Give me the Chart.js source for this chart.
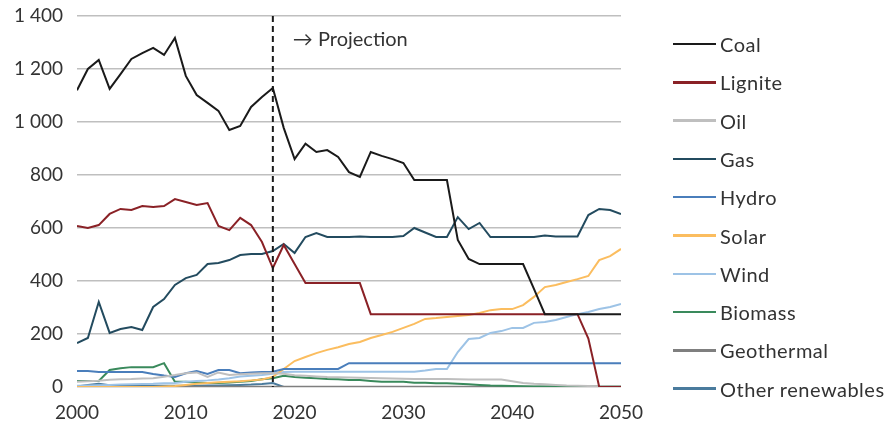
<!DOCTYPE html>
<html>
<head>
<meta charset="utf-8">
<script src="https://cdn.jsdelivr.net/npm/chart.js@4"></script>
<style>
  html, body { margin: 0; padding: 0; background: #fff; }
  #wrap { position: relative; width: 887px; height: 430px; }
  #legend { position: absolute; left: 673px; top: 0; font-family: Lato, "Open Sans", sans-serif; font-size: 20px; letter-spacing: 0.5px; color: #333; }
  .item { position: absolute; left: 0; height: 24px; display: flex; align-items: center; white-space: nowrap; }
  .swatch { width: 43px; height: 2.5px; margin-right: 4px; }
</style>
</head>
<body>
<div id="wrap">
  <canvas id="c" width="887" height="430"></canvas>
  <div id="legend"></div>
</div>
<script>
const years = [];
for (let y = 2000; y <= 2050; y++) years.push(y);

const seriesNames = ["Coal", "Lignite", "Oil", "Gas", "Hydro", "Solar", "Wind", "Biomass", "Geothermal", "Other renewables"];
const seriesColors = ["#1a1a1a", "#8a2126", "#bfbfbf", "#234b5f", "#4a7ebb", "#fbbd5f", "#9dc3e6", "#3a8a5c", "#7f7f7f", "#4a7b9d"];

const coal = [1120,1200,1234,1125,1181,1238,1260,1280,1253,1317,1174,1102,1072,1042,970,985,1057,1094,1128,978,860,918,887,894,868,811,793,887,872,860,845,781,781,781,781,555,483,464,464,464,464,464,370,275,275,275,275,275,275,275,275];
const lignite = [608,600,611,653,672,668,683,679,683,709,698,687,694,608,592,638,611,547,449,536,464,392,392,392,392,392,392,275,275,275,275,275,275,275,275,275,275,275,275,275,275,275,275,275,275,275,275,183,0,0,0];
const oil = [20,22,24,27,29,30,32,33,39,45,52,55,38,55,45,48,50,52,52,50,44,42,40,38,37,36,35,34,33,32,31,30,30,30,30,29,28,28,28,28,22,15,12,10,8,6,5,4,3,2,2];
const gas = [166,185,321,204,219,226,215,302,332,385,411,423,464,468,479,498,502,502,513,540,506,566,581,566,566,566,568,566,566,566,570,600,583,566,566,641,596,619,566,566,566,566,566,572,568,568,568,649,672,668,653];
const hydro = [60,60,57,57,57,57,57,49,43,38,52,60,49,64,64,52,55,57,58,68,68,68,68,68,68,90,90,90,90,90,90,90,90,90,90,90,90,90,90,90,90,90,90,90,90,90,90,90,90,90,90];
const solar = [0,0,0,0,0,0,0,0,2,4,8,12,15,18,20,22,25,28,38,68,98,113,128,140,150,162,170,185,196,208,223,238,257,260,264,268,272,279,290,294,294,309,340,377,385,396,407,419,479,494,521];
const wind = [5,6,7,8,9,10,11,12,14,15,20,23,25,28,33,40,42,45,50,57,58,58,58,58,58,58,58,58,58,58,58,58,62,68,68,132,181,185,204,211,223,223,242,245,253,264,275,283,294,302,313];
const biomass = [23,23,23,64,71,75,75,75,90,20,20,17,15,15,17,20,23,29,33,42,38,35,33,30,29,26,26,23,20,20,20,16,16,14,14,12,10,8,6,5,4,3,2,2,2,2,2,2,2,2,2];
const geothermal = [0,0,0,0,0,0,0,0,0,0,0,1,1,1,1,1,1,1,1,1,1,1,1,1,1,1,1,1,1,1,1,1,1,1,1,1,1,1,1,1,1,1,1,1,1,1,1,1,1,1,1];
const otherRenewables = [2,8,12,7,5,5,5,5,5,5,5,5,6,6,7,8,9,11,15,0,0,0,0,0,0,0,0,0,0,0,0,0,0,0,0,0,0,0,0,0,0,0,0,0,0,0,0,0,0,0,0];

const seriesValues = [coal, lignite, oil, gas, hydro, solar, wind, biomass, geothermal, otherRenewables];

const yTicks = [0, 200, 400, 600, 800, 1000, 1200, 1400];
const xTicks = [2000, 2010, 2020, 2030, 2040, 2050];
const projectionYear = 2018;
const projectionLabel = "\u2192 Projection";

const FONT = "Lato, 'Open Sans', sans-serif";

const datasets = seriesNames.map((name, i) => ({
  label: name,
  data: years.map((yr, j) => ({ x: yr, y: seriesValues[i][j] })),
  borderColor: seriesColors[i],
  backgroundColor: seriesColors[i],
  borderWidth: 2,
  pointRadius: 0,
  tension: 0,
  fill: false
}));

const projectionPlugin = {
  id: 'projection',
  afterDatasetsDraw(chart) {
    const { ctx, chartArea, scales } = chart;
    const x = scales.x.getPixelForValue(projectionYear);
    ctx.save();
    ctx.strokeStyle = '#1a1a1a';
    ctx.lineWidth = 2;
    ctx.setLineDash([6, 4]);
    ctx.beginPath();
    ctx.moveTo(x, chartArea.top);
    ctx.lineTo(x, chartArea.bottom);
    ctx.stroke();
    ctx.setLineDash([]);
    ctx.fillStyle = '#333';
    ctx.font = "20px " + FONT;
    ctx.textBaseline = 'middle';
    ctx.textAlign = 'left';
    ctx.fillText(projectionLabel, x + 20, scales.y.getPixelForValue(1310));
    ctx.restore();
  }
};

new Chart(document.getElementById('c'), {
  type: 'line',
  data: { datasets },
  options: {
    responsive: false,
    animation: false,
    layout: { padding: { top: 16, right: 266, left: 0, bottom: 0 } },
    plugins: { legend: { display: false }, tooltip: { enabled: false } },
    scales: {
      x: {
        type: 'linear',
        min: 2000, max: 2050,
        afterBuildTicks(scale) { scale.ticks = xTicks.map(v => ({ value: v })); },
        afterFit(scale) { scale.height = 43; scale.paddingLeft = 0; scale.paddingRight = 0; },
        grid: { display: false, drawTicks: false },
        border: { display: false },
        ticks: { padding: 14, color: '#333', font: { family: FONT, size: 19 }, callback: v => String(v), maxRotation: 0 }
      },
      y: {
        min: 0, max: 1400,
        afterBuildTicks(scale) { scale.ticks = yTicks.map(v => ({ value: v })); },
        afterFit(scale) { scale.width = 77; scale.paddingTop = 0; scale.paddingBottom = 0; },
        grid: { color: '#bfbfbf', lineWidth: 1.5, drawTicks: false },
        border: { display: false },
        ticks: {
          padding: 14, color: '#333', font: { family: FONT, size: 19 },
          callback: v => String(v).replace(/\B(?=(\d{3})+(?!\d))/g, ' ')
        }
      }
    }
  },
  plugins: [projectionPlugin]
});

const legend = document.getElementById('legend');
seriesNames.forEach((name, i) => {
  const item = document.createElement('div');
  item.className = 'item';
  item.style.top = (44 + i * 38.3 - 12) + 'px';
  const sw = document.createElement('span');
  sw.className = 'swatch';
  sw.style.background = seriesColors[i];
  const tx = document.createElement('span');
  tx.textContent = name;
  item.appendChild(sw);
  item.appendChild(tx);
  legend.appendChild(item);
});
</script>
</body>
</html>
